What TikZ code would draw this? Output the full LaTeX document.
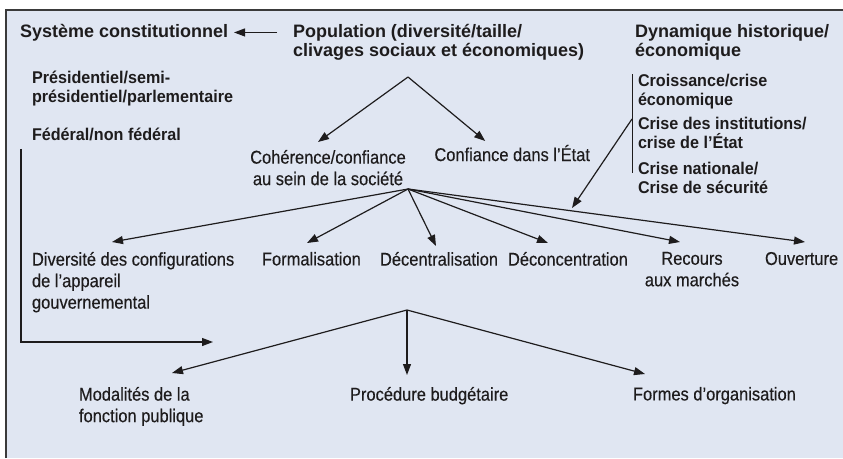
\documentclass[tikz,border=0pt]{standalone}
\usepackage{fontspec}
\setmainfont{Liberation Sans}
\newfontfamily\narrowfont{Liberation Sans}[FakeStretch=0.89, FakeBold=0.3]
\newfontfamily\headfont{Liberation Sans}[FakeStretch=1.0]
\newfontfamily\subfont{Liberation Sans}[FakeStretch=0.95]
\usetikzlibrary{arrows.meta, positioning}

\definecolor{panelbg}{HTML}{E0E6F2}
\definecolor{ink}{HTML}{1E1C1D}
\definecolor{framegray}{HTML}{3A3A3A}

\begin{document}
\begin{tikzpicture}[x=1pt, y=-1pt,
  every node/.style={inner sep=0pt, outer sep=0pt, text=ink},
  headtxt/.style={font=\headfont\bfseries\fontsize{18}{19}\selectfont, align=left, anchor=north west},
  subtxt/.style={font=\subfont\bfseries\fontsize{17}{19.5}\selectfont, align=left, anchor=north west},
  bodytxt/.style={font=\narrowfont\fontsize{18.5}{21.5}\selectfont, anchor=north west},
  arr/.style={draw=ink, line width=1.2pt, -{Triangle[length=11pt,width=8pt]}},
]
\useasboundingbox (0,0) rectangle (843,458);
\fill[panelbg] (6,10) rectangle (843,458);
\draw[framegray, line width=2pt] (6,458) -- (6,10) -- (843,10);

% top row
\node[headtxt] (sys) at (20,24) {Système constitutionnel};
\node[headtxt] (pop) at (293,24) {Population (diversité/taille/\\clivages sociaux et économiques)};
\node[headtxt] (dyn) at (635,24) {Dynamique historique/\\économique};

\node[subtxt] (pres) at (32,71) {Présidentiel/semi-\\présidentiel/parlementaire};
\node[subtxt] (fed) at (32,128) {Fédéral/non fédéral};

\node[subtxt] (cro) at (638,74) {Croissance/crise\\économique};
\node[subtxt] (inst) at (638,117) {Crise des institutions/\\crise de l’État};
\node[subtxt] (nat) at (638,162) {Crise nationale/\\Crise de sécurité};

% middle
\node[bodytxt, align=center, anchor=north] (coh) at (328,150) {Cohérence/confiance\\au sein de la société};
\node[bodytxt, anchor=north east] (conf) at (590,145) {Confiance dans l’État};

\node[bodytxt, align=left] (div) at (32,252) {Diversité des configurations\\de l’appareil\\gouvernemental};
\node[bodytxt] (form) at (262,252) {Formalisation};
\node[bodytxt] (dece) at (380,252) {Décentralisation};
\node[bodytxt] (deco) at (508,252) {Déconcentration};
\node[bodytxt, align=center, anchor=north] (rec) at (692,252) {Recours\\aux marchés};
\node[bodytxt] (ouv) at (765,252) {Ouverture};

% bottom
\node[bodytxt, align=left] (mod) at (79,387) {Modalités de la\\fonction publique};
\node[bodytxt] (proc) at (350,387) {Procédure budgétaire};
\node[bodytxt] (orga) at (633,387) {Formes d’organisation};

\coordinate (split) at (408,77);
\coordinate (fan) at (408,189);
\coordinate (fork) at (407,310);
\coordinate (cross) at (572,208);
\coordinate (corner) at (213,342);

\draw[arr, shorten <=16pt, shorten >=6pt] (pop.west |- sys.east) -- (sys.east);
\draw[arr] (split) -- ([xshift=-10pt,yshift=8pt]coh.north);
\draw[arr] (split) -- ([xshift=-27pt,yshift=4pt]conf.north);

\draw[ink, line width=0.9pt] ([xshift=-6pt]cro.north west) -- ([xshift=-6pt,yshift=-11pt]nat.north west);
\draw[arr] ([xshift=-6pt,yshift=-2pt]inst.north west) -- (cross);

\draw[arr] (fan) -- ([xshift=80pt,yshift=10pt]div.north west);
\draw[arr] (fan) -- ([xshift=45pt,yshift=9pt]form.north west);
\draw[arr] (fan) -- ([xshift=56pt,yshift=6pt]dece.north west);
\draw[arr] (fan) -- ([xshift=40pt,yshift=9pt]deco.north west);
\draw[arr] (fan) -- ([xshift=-12pt,yshift=10pt]rec.north);
\draw[arr] (fan) -- ([xshift=40pt,yshift=10pt]ouv.north west);

\draw[arr] ([xshift=-11pt,yshift=-8pt]fed.south west) |- (corner);

\draw[arr] (fork) -- ([xshift=93pt,yshift=14pt]mod.north west);
\draw[arr, shorten >=12pt] (fork) -- (fork |- proc.north);
\draw[arr] (fork) -- ([xshift=12pt,yshift=13pt]orga.north west);
\end{tikzpicture}
\end{document}
